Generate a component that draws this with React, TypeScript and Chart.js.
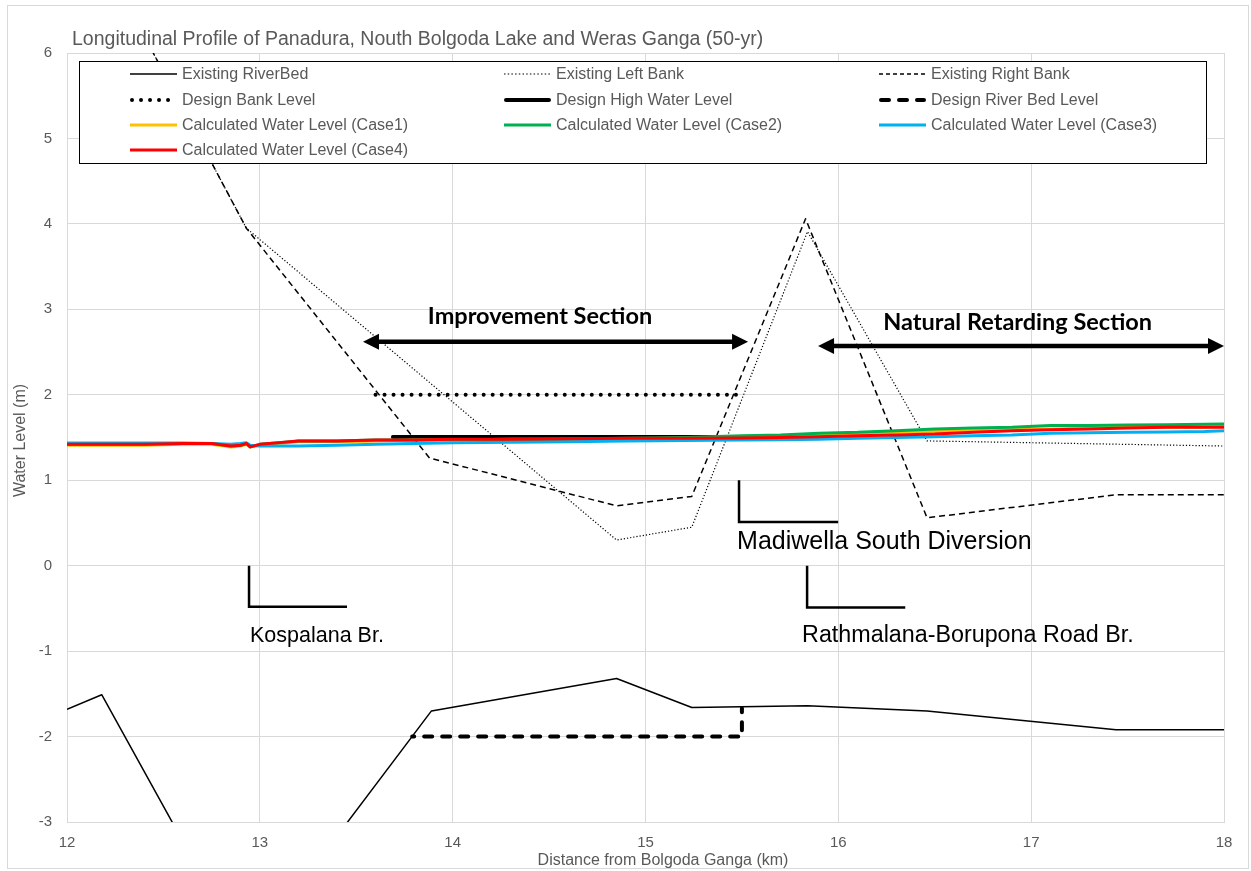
import React, { useEffect, useRef } from 'react';
import { Chart, registerables } from 'chart.js';

Chart.register(...registerables);

// ---------- text ----------
const TITLE = 'Longitudinal Profile of Panadura, Nouth Bolgoda Lake and Weras Ganga (50-yr)';
const X_TITLE = 'Distance from Bolgoda Ganga (km)';
const Y_TITLE = 'Water Level (m)';

// ---------- ticks ----------
const X_TICKS = [12, 13, 14, 15, 16, 17, 18];
const Y_TICKS = [-3, -2, -1, 0, 1, 2, 3, 4, 5, 6];

// ---------- series data ----------
const riverBedX = [12, 12.18, 12.93, 13.89, 14.85, 15.24, 15.84, 16.46, 17.44, 18];
const riverBedY = [-1.68, -1.51, -4.57, -1.7, -1.32, -1.66, -1.64, -1.7, -1.92, -1.92];

const leftBankX = [12, 12.93, 14.85, 15.24, 15.84, 16.46, 18];
const leftBankY = [7.9, 3.95, 0.3, 0.45, 3.91, 1.46, 1.4];

const rightBankX = [12, 12.93, 13.88, 14.85, 15.24, 15.83, 16.46, 17.44, 18];
const rightBankY = [7.9, 3.95, 1.26, 0.7, 0.81, 4.06, 0.56, 0.83, 0.83];

const designBankX = [13.6, 15.49];
const designBankY = [2.0, 2.0];

const designHwlX = [13.69, 15.5];
const designHwlY = [1.505, 1.505];

const designBedX = [13.79, 15.5, 15.5];
const designBedY = [-2.0, -2.0, -1.67];

const waterX = [12, 12.2, 12.4, 12.6, 12.75, 12.85, 12.9, 12.93, 12.95, 13.0, 13.1, 13.2, 13.4, 13.6, 13.8, 14.0, 14.3, 14.6, 14.9, 15.2, 15.5, 15.7, 15.9, 16.1, 16.3, 16.5, 16.7, 16.9, 17.1, 17.3, 17.5, 17.7, 17.9, 18];
const case1Y = [1.41, 1.41, 1.41, 1.42, 1.42, 1.39, 1.40, 1.42, 1.39, 1.41, 1.43, 1.45, 1.45, 1.46, 1.47, 1.47, 1.48, 1.48, 1.48, 1.49, 1.50, 1.51, 1.53, 1.54, 1.56, 1.57, 1.58, 1.59, 1.60, 1.61, 1.62, 1.62, 1.62, 1.63];
const case2Y = [1.42, 1.42, 1.42, 1.43, 1.43, 1.40, 1.41, 1.43, 1.39, 1.42, 1.44, 1.46, 1.46, 1.47, 1.47, 1.475, 1.475, 1.48, 1.49, 1.50, 1.52, 1.53, 1.55, 1.56, 1.58, 1.60, 1.61, 1.62, 1.64, 1.64, 1.645, 1.65, 1.655, 1.657];
const case3Y = [1.435, 1.435, 1.435, 1.435, 1.43, 1.42, 1.43, 1.44, 1.41, 1.40, 1.40, 1.40, 1.41, 1.42, 1.43, 1.44, 1.445, 1.45, 1.46, 1.465, 1.47, 1.475, 1.48, 1.49, 1.50, 1.51, 1.52, 1.53, 1.55, 1.555, 1.56, 1.565, 1.57, 1.58];
const case4Y = [1.42, 1.42, 1.42, 1.43, 1.43, 1.40, 1.41, 1.43, 1.39, 1.42, 1.44, 1.46, 1.46, 1.47, 1.47, 1.48, 1.48, 1.485, 1.49, 1.49, 1.495, 1.50, 1.51, 1.52, 1.53, 1.54, 1.56, 1.58, 1.59, 1.60, 1.61, 1.62, 1.62, 1.62];

// ---------- annotations (data coordinates) ----------
const bridgeNames = ['Kospalana Br.', 'Madiwella South Diversion', 'Rathmalana-Borupona Road Br.'];
const bridgeX = [12.944, 15.485, 15.838];
const bridgeTopY = [0, 1.0, 0];
const bridgeBottomY = [-0.48, 0.51, -0.49];
const bridgeEndX = [13.452, 15.999, 16.347];
const bridgeLabelX = [12.949, 15.475, 15.812];
const bridgeLabelY = [-0.82, 0.27, -0.82];
const bridgeFontSize = [21.5, 25, 23.3];

const sectionNames = ['Improvement Section', 'Natural Retarding Section'];
const sectionFromX = [13.535, 15.895];
const sectionToX = [15.532, 18.0];
const sectionArrowY = [2.62, 2.57];
const sectionLabelX = [14.453, 16.93];
const sectionLabelY = [2.915, 2.85];

// ---------- series styling ----------
type Series = {
  label: string; xs: number[]; ys: number[]; color: string; width: number;
  dash: number[]; cap: CanvasLineCap; legendDash?: number[]; dashOffset?: number;
};

const SERIES: Series[] = [
  { label: 'Existing RiverBed', xs: riverBedX, ys: riverBedY, color: '#000000', width: 1.5, dash: [], cap: 'butt' },
  { label: 'Existing Left Bank', xs: leftBankX, ys: leftBankY, color: '#000000', width: 1.2, dash: [1.2, 2], cap: 'butt', legendDash: [1.5, 2.2] },
  { label: 'Existing Right Bank', xs: rightBankX, ys: rightBankY, color: '#000000', width: 1.5, dash: [6, 4], cap: 'butt', legendDash: [4, 3] },
  { label: 'Design Bank Level', xs: designBankX, ys: designBankY, color: '#000000', width: 4, dash: [0.01, 9], cap: 'round' },
  { label: 'Design High Water Level', xs: designHwlX, ys: designHwlY, color: '#000000', width: 4, dash: [], cap: 'round' },
  { label: 'Design River Bed Level', xs: designBedX, ys: designBedY, color: '#000000', width: 4, dash: [8, 10], cap: 'round', legendDash: [8, 10], dashOffset: 6 },
  { label: 'Calculated Water Level (Case1)', xs: waterX, ys: case1Y, color: '#FFC000', width: 3, dash: [], cap: 'butt' },
  { label: 'Calculated Water Level (Case2)', xs: waterX, ys: case2Y, color: '#00B050', width: 3, dash: [], cap: 'butt' },
  { label: 'Calculated Water Level (Case3)', xs: waterX, ys: case3Y, color: '#00B0F0', width: 3, dash: [], cap: 'butt' },
  { label: 'Calculated Water Level (Case4)', xs: waterX, ys: case4Y, color: '#FF0000', width: 3, dash: [], cap: 'butt' },
];

const GRAY_TEXT = '#595959';
const GRID = '#d9d9d9';
const FONT = '"Liberation Sans", Arial, sans-serif';

const decorPlugin = {
  id: 'decor',
  beforeDraw(chart: any) {
    const ctx = chart.ctx as CanvasRenderingContext2D;
    ctx.save();
    ctx.fillStyle = '#ffffff';
    ctx.fillRect(0, 0, chart.width, chart.height);
    ctx.strokeStyle = GRID;
    ctx.lineWidth = 1;
    ctx.strokeRect(7.5, 5.5, 1241, 863);
    // title
    ctx.fillStyle = GRAY_TEXT;
    ctx.font = `19.5px ${FONT}`;
    ctx.textBaseline = 'middle';
    ctx.textAlign = 'left';
    ctx.fillText(TITLE, 72, 40);
    // axis titles
    const ca = chart.chartArea;
    ctx.font = `16px ${FONT}`;
    ctx.textAlign = 'center';
    ctx.fillText(X_TITLE, 663, 861);
    ctx.save();
    ctx.translate(21, (ca.top + ca.bottom) / 2 + 3);
    ctx.rotate(-Math.PI / 2);
    ctx.fillText(Y_TITLE, 0, 0);
    ctx.restore();
    ctx.restore();
  },
  afterDatasetsDraw(chart: any) {
    const ctx = chart.ctx as CanvasRenderingContext2D;
    const xs = chart.scales.x;
    const ys = chart.scales.y;
    ctx.save();
    // bridge markers
    ctx.strokeStyle = '#000';
    ctx.lineWidth = 2.5;
    ctx.lineCap = 'butt';
    for (let i = 0; i < bridgeNames.length; i++) {
      const px = xs.getPixelForValue(bridgeX[i]);
      const pt = ys.getPixelForValue(bridgeTopY[i]);
      const pb = ys.getPixelForValue(bridgeBottomY[i]);
      const pe = xs.getPixelForValue(bridgeEndX[i]);
      ctx.beginPath();
      ctx.moveTo(px, pt);
      ctx.lineTo(px, pb);
      ctx.lineTo(pe, pb);
      ctx.stroke();
      ctx.fillStyle = '#000';
      ctx.font = `${bridgeFontSize[i]}px ${FONT}`;
      ctx.textAlign = 'left';
      ctx.textBaseline = 'middle';
      ctx.fillText(bridgeNames[i], xs.getPixelForValue(bridgeLabelX[i]), ys.getPixelForValue(bridgeLabelY[i]));
    }
    // section arrows
    for (let i = 0; i < sectionNames.length; i++) {
      const x1 = xs.getPixelForValue(sectionFromX[i]);
      const x2 = xs.getPixelForValue(sectionToX[i]);
      const y = ys.getPixelForValue(sectionArrowY[i]);
      const head = 16;
      const half = 8;
      ctx.fillStyle = '#000';
      ctx.strokeStyle = '#000';
      ctx.lineWidth = 4.5;
      ctx.beginPath();
      ctx.moveTo(x1 + head - 2, y);
      ctx.lineTo(x2 - head + 2, y);
      ctx.stroke();
      ctx.beginPath();
      ctx.moveTo(x1, y);
      ctx.lineTo(x1 + head, y - half);
      ctx.lineTo(x1 + head, y + half);
      ctx.closePath();
      ctx.fill();
      ctx.beginPath();
      ctx.moveTo(x2, y);
      ctx.lineTo(x2 - head, y - half);
      ctx.lineTo(x2 - head, y + half);
      ctx.closePath();
      ctx.fill();
      ctx.font = `bold 23.5px Lato, "Open Sans", sans-serif`;
      ctx.textAlign = 'center';
      ctx.textBaseline = 'middle';
      ctx.fillText(sectionNames[i], xs.getPixelForValue(sectionLabelX[i]), ys.getPixelForValue(sectionLabelY[i]));
    }
    // legend box
    ctx.fillStyle = '#ffffff';
    ctx.fillRect(79, 61, 1127, 102);
    ctx.strokeStyle = '#000';
    ctx.lineWidth = 1;
    ctx.strokeRect(79.5, 61.5, 1127, 102);
    const colX = [130, 504, 879];
    const rowY = [74, 100, 125, 150];
    SERIES.forEach((s, i) => {
      const c = i % 3;
      const r = Math.floor(i / 3);
      const lx = colX[c];
      const ly = rowY[r];
      ctx.save();
      ctx.strokeStyle = s.color;
      ctx.lineWidth = s.width;
      ctx.lineCap = s.cap;
      ctx.setLineDash(s.legendDash || s.dash);
      ctx.beginPath();
      const inset = s.cap === 'round' ? 2 : 0;
      ctx.moveTo(lx + inset, ly);
      ctx.lineTo(lx + 47 - inset, ly);
      ctx.stroke();
      ctx.restore();
      ctx.fillStyle = GRAY_TEXT;
      ctx.font = `16px ${FONT}`;
      ctx.textAlign = 'left';
      ctx.textBaseline = 'middle';
      ctx.fillText(s.label, lx + 52, ly + 1);
    });
    ctx.restore();
  },
};

export default function App() {
  const ref = useRef<HTMLCanvasElement>(null);
  useEffect(() => {
    if (!ref.current) return;
    const datasets = SERIES.map((s, i) => ({
      label: s.label,
      data: s.xs.map((x, k) => ({ x, y: s.ys[k] })),
      borderColor: s.color,
      backgroundColor: s.color,
      borderWidth: s.width,
      borderDash: s.dash,
      borderDashOffset: s.dashOffset || 0,
      borderCapStyle: s.cap,
      borderJoinStyle: 'round' as CanvasLineJoin,
      pointRadius: 0,
      pointHoverRadius: 0,
      showLine: true,
      fill: false,
      tension: 0,
      order: SERIES.length - i,
    }));
    const chart = new Chart(ref.current, {
      type: 'scatter',
      data: { datasets },
      plugins: [decorPlugin],
      options: {
        animation: false,
        responsive: false,
        devicePixelRatio: 1,
        events: [],
        layout: { padding: { left: 0, top: 53, right: 27, bottom: 0 } },
        plugins: { legend: { display: false }, tooltip: { enabled: false }, title: { display: false } },
        scales: {
          x: {
            type: 'linear',
            min: 12,
            max: 18,
            afterBuildTicks: (axis: any) => { axis.ticks = X_TICKS.map((v) => ({ value: v })); },
            afterFit: (axis: any) => { axis.height = 49; },
            ticks: { color: GRAY_TEXT, font: { family: FONT, size: 15 }, padding: 12, maxRotation: 0 },
            grid: { color: GRID, lineWidth: 1, drawTicks: false },
            border: { color: GRID, width: 1 },
          },
          y: {
            type: 'linear',
            min: -3,
            max: 6,
            afterBuildTicks: (axis: any) => { axis.ticks = Y_TICKS.map((v) => ({ value: v })); },
            afterFit: (axis: any) => { axis.width = 67; },
            ticks: { color: GRAY_TEXT, font: { family: FONT, size: 15 }, padding: 15 },
            grid: { color: GRID, lineWidth: 1, drawTicks: false },
            border: { color: GRID, width: 1 },
          },
        },
      },
    } as any);
    return () => chart.destroy();
  }, []);
  return (
    <div style={{ position: 'absolute', left: 0, top: 0, width: 1251, height: 871, background: '#fff' }}>
      <canvas ref={ref} width={1251} height={871} style={{ display: 'block', width: 1251, height: 871 }} />
    </div>
  );
}
